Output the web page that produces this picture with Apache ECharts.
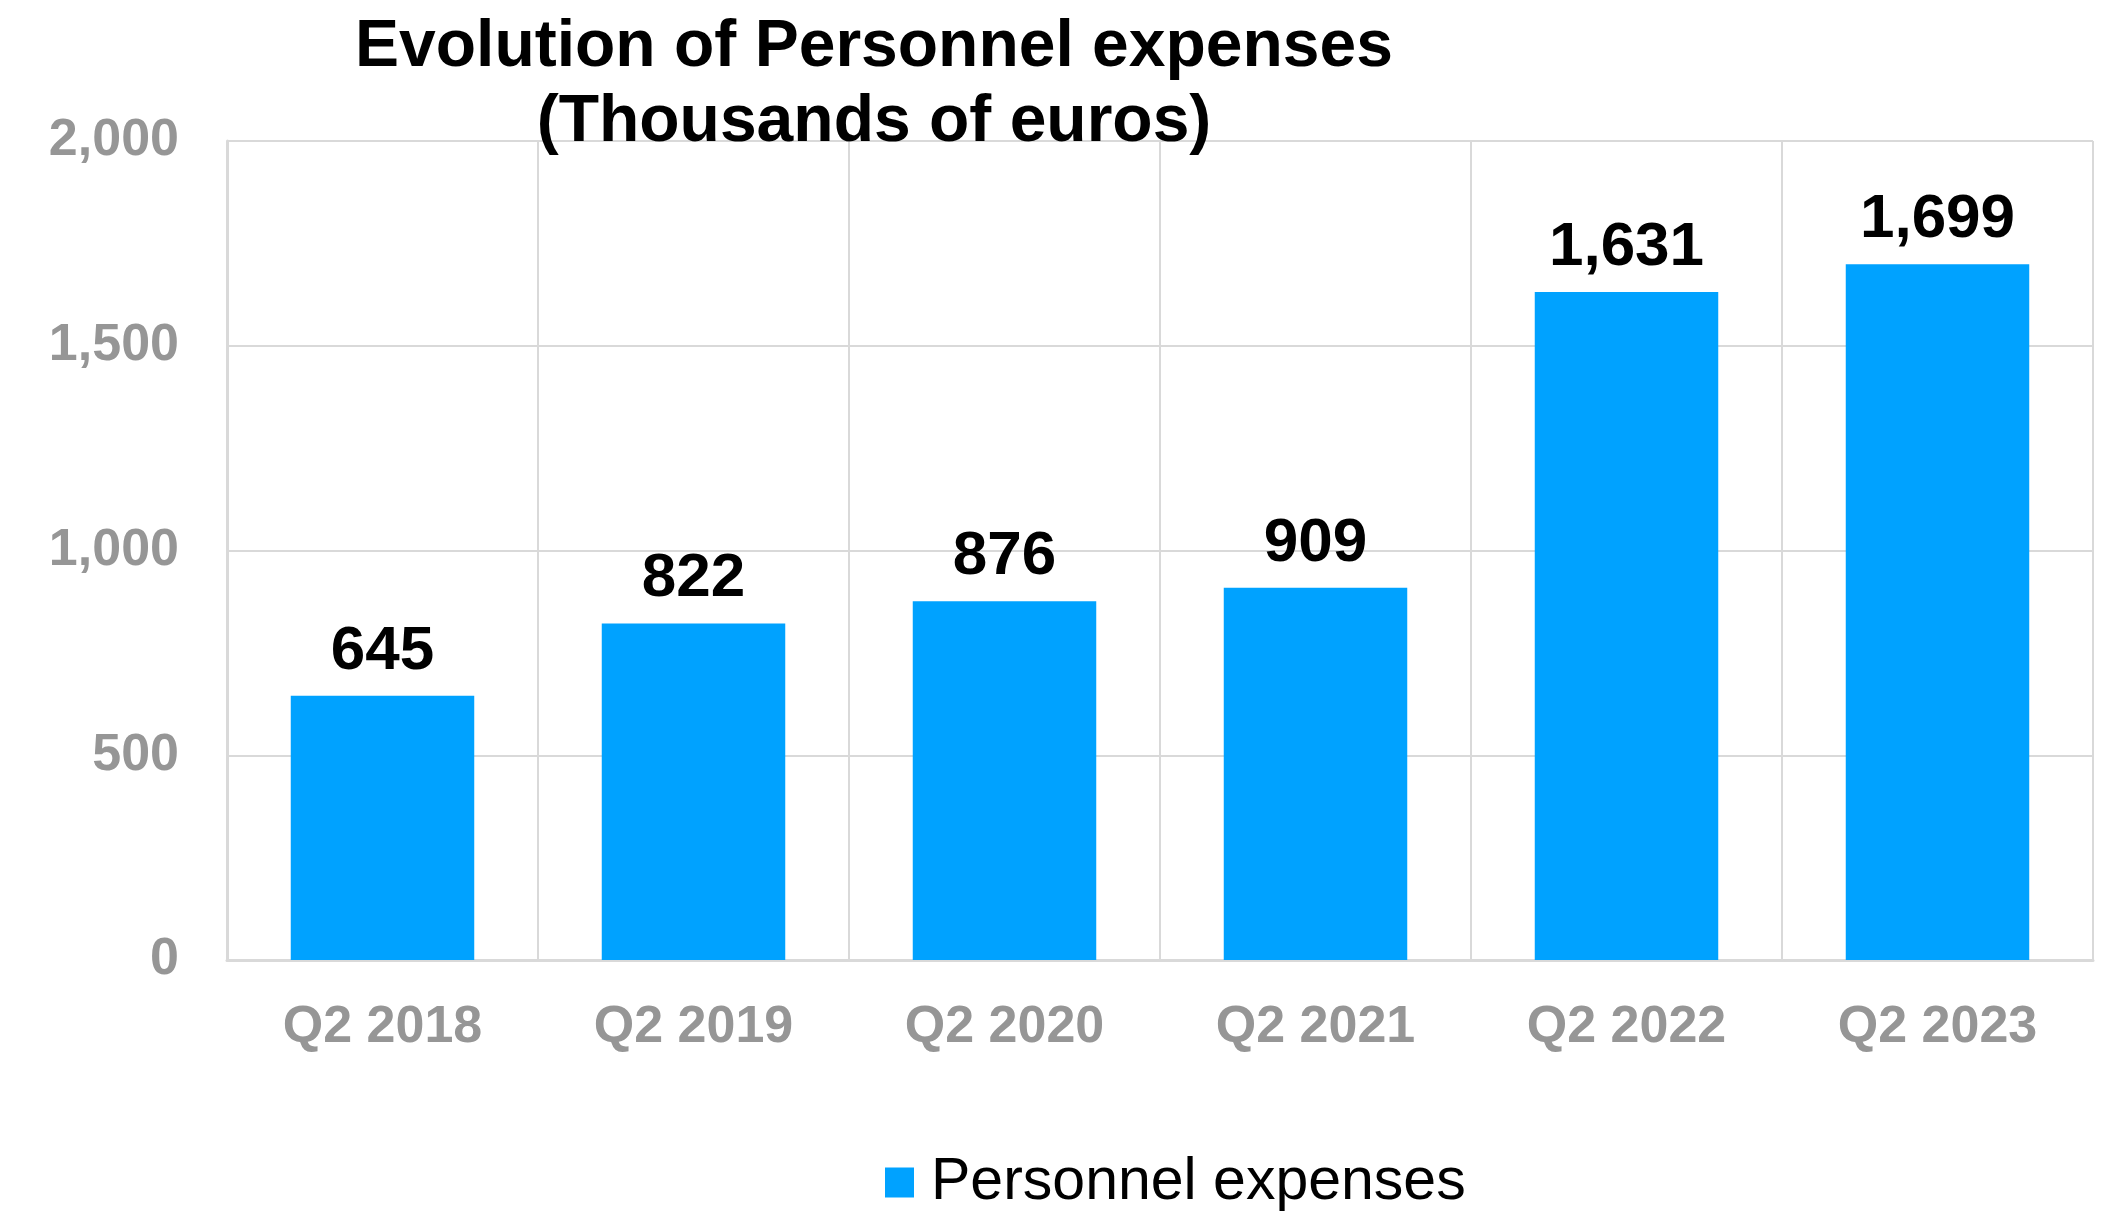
<!DOCTYPE html>
<html>
<head>
<meta charset="utf-8">
<script src="https://cdn.jsdelivr.net/npm/echarts@6/dist/echarts.min.js"></script>
<style>
  html, body { margin: 0; padding: 0; background: #fff; }
  #chart { width: 2111px; height: 1211px; }
</style>
</head>
<body>
<div id="chart"></div>
<script>
const quarters = ['Q2 2018', 'Q2 2019', 'Q2 2020', 'Q2 2021', 'Q2 2022', 'Q2 2023']
const expenses = [645, 822, 876, 909, 1631, 1699]
const yTicks = [0, 500, 1000, 1500, 2000]

const myChart = echarts.init(document.getElementById('chart'))
const font = '"Liberation Sans", Arial, sans-serif'

let option = {
  backgroundColor: '#fff',
  animation: false,
  title: {
    text: 'Evolution of Personnel expenses\n(Thousands of euros)',
    left: 869,
    top: 5,
    textAlign: 'center',
    textStyle: {
      fontFamily: font,
      fontWeight: 'bold',
      fontSize: 66,
      lineHeight: 75,
      color: '#000'
    }
  },
  legend: {
    data: ['Personnel expenses'],
    top: 1148,
    left: 880,
    itemWidth: 29,
    itemHeight: 30,
    icon: 'rect',
    textStyle: { fontFamily: font, fontSize: 59, color: '#000', padding: [0, 0, 0, 12] }
  },
  grid: { left: 227, right: 18, top: 141, bottom: 251 },
  xAxis: {
    type: 'category',
    data: quarters,
    axisLine: { lineStyle: { color: '#d9d9d9', width: 3 } },
    axisTick: { show: false },
    splitLine: { show: true, lineStyle: { color: '#d9d9d9', width: 2 } },
    axisLabel: {
      margin: 42,
      fontFamily: font,
      fontWeight: 'bold',
      fontSize: 52,
      color: '#969696'
    }
  },
  yAxis: {
    type: 'value',
    min: yTicks[0],
    max: yTicks[yTicks.length - 1],
    interval: 500,
    axisLine: { show: true, lineStyle: { color: '#d9d9d9', width: 3 } },
    axisTick: { show: false },
    splitLine: { lineStyle: { color: '#d9d9d9', width: 2 } },
    axisLabel: {
      margin: 48,
      fontFamily: font,
      fontWeight: 'bold',
      fontSize: 52,
      color: '#969696',
      formatter: v => v.toLocaleString('en-US')
    }
  },
  series: [
    {
      name: 'Personnel expenses',
      type: 'bar',
      data: expenses,
      barWidth: '59%',
      itemStyle: { color: '#00a2ff' },
      label: {
        show: true,
        position: 'top',
        distance: 13,
        fontFamily: font,
        fontWeight: 'bold',
        fontSize: 62,
        color: '#000',
        formatter: p => p.value.toLocaleString('en-US')
      }
    }
  ]
}

myChart.setOption(option)
</script>
</body>
</html>
